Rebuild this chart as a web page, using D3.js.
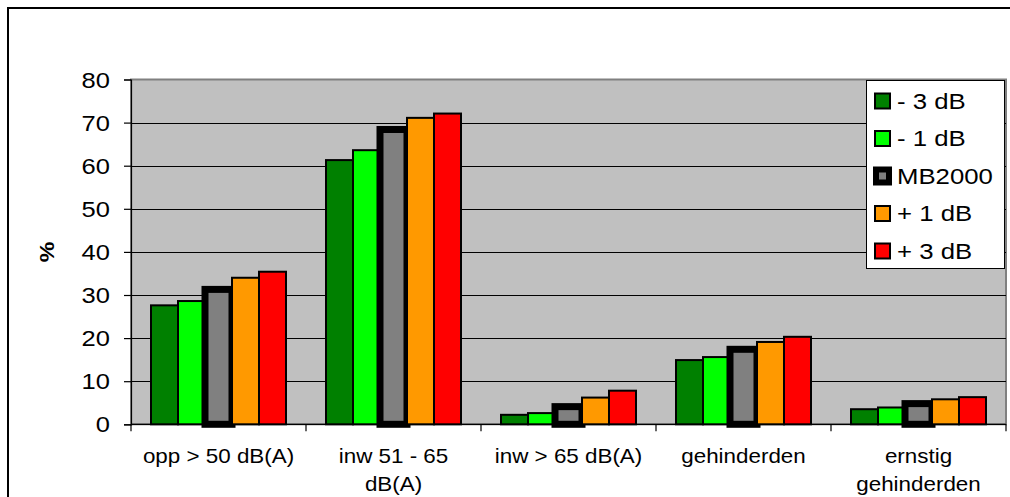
<!DOCTYPE html>
<html>
<head>
<meta charset="utf-8">
<script src="https://cdn.jsdelivr.net/npm/d3@7"></script>
<style>
  html, body { margin: 0; padding: 0; background: #fff; }
  svg { display: block; }
  text { font-family: "Liberation Sans", Arial, sans-serif; fill: #000; }
</style>
</head>
<body>
<svg id="chart" width="1010" height="497"></svg>
<script>
// Categories (each label split into its display lines)
const categories = ["opp > 50 dB(A)", "inw 51 - 65 dB(A)", "inw > 65 dB(A)", "gehinderden", "ernstig gehinderden"];
const categoryLines = [["opp > 50 dB(A)"], ["inw 51 - 65", "dB(A)"], ["inw > 65 dB(A)"], ["gehinderden"], ["ernstig", "gehinderden"]];

// Series names and values (%)
const seriesNames = ["- 3 dB", "- 1 dB", "MB2000", "+ 1 dB", "+ 3 dB"];
const minus3 = [27.6, 61.3, 2.2, 14.9, 3.5];
const minus1 = [28.6, 63.6, 2.6, 15.6, 3.9];
const mb2000 = [31.3, 68.4, 4.1, 17.4, 4.8];
const plus1  = [34.0, 71.1, 6.2, 19.1, 5.8];
const plus3  = [35.4, 72.1, 7.8, 20.3, 6.3];
const seriesValues = [minus3, minus1, mb2000, plus1, plus3];

// Y-axis ticks
const yTicks = [0, 10, 20, 30, 40, 50, 60, 70, 80];

const fills = ["#008000", "#00ff00", "#808080", "#ff9900", "#ff0000"];
const strokeW = [2, 2, 7, 2, 2];

const svg = d3.select("#chart");

// outer chart frame
svg.append("rect")
  .attr("x", 8).attr("y", 8).attr("width", 1020).attr("height", 520)
  .attr("fill", "#fff").attr("stroke", "#000").attr("stroke-width", 2);

const plot = { left: 131, right: 1006, top: 79.5, bottom: 424.3 };

const x0 = d3.scaleBand().domain(categories).range([plot.left, plot.right]).padding(0);
const x1 = d3.scaleBand().domain(seriesNames).range([20, x0.bandwidth() - 20]).padding(0);
const y = d3.scaleLinear().domain([0, 80]).range([plot.bottom, plot.top]);

// horizontally widened text helper
function stretchText(g, tx, ty, str, size, anchor, sx, weight) {
  return g.append("text")
    .attr("transform", `translate(${tx},${ty}) scale(${sx},1)`)
    .attr("text-anchor", anchor)
    .attr("font-size", size)
    .attr("font-weight", weight || "normal")
    .text(str);
}

// plot area background
svg.append("rect")
  .attr("x", plot.left).attr("y", plot.top)
  .attr("width", plot.right - plot.left).attr("height", plot.bottom - plot.top)
  .attr("fill", "#c0c0c0").attr("stroke", "#808080").attr("stroke-width", 2);

// gridlines
svg.append("g").selectAll("line")
  .data(yTicks.filter(d => d > 0 && d < 80))
  .join("line")
  .attr("x1", plot.left).attr("x2", plot.right)
  .attr("y1", d => Math.round(y(d)) + 0.5).attr("y2", d => Math.round(y(d)) + 0.5)
  .attr("stroke", "#000").attr("stroke-width", 1);

// y axis
const yAxis = svg.append("g")
  .attr("transform", `translate(${plot.left},0)`)
  .call(d3.axisLeft(y).tickValues(yTicks).tickSize(7).tickFormat(""));
yAxis.selectAll("path, line").attr("stroke", "#000").attr("stroke-width", 1.2);

const yLabels = svg.append("g");
yTicks.forEach(t => stretchText(yLabels, 110, y(t) + 8, String(t), 22, "end", 1.16));

// y axis title
svg.append("text")
  .attr("transform", `translate(54,252) rotate(-90) scale(1.1,1)`)
  .attr("text-anchor", "middle")
  .attr("font-size", 21)
  .attr("font-weight", "bold")
  .text("%");

// x axis
const xAxis = svg.append("g")
  .attr("transform", `translate(0,${plot.bottom})`);
xAxis.append("line")
  .attr("x1", plot.left).attr("x2", plot.right).attr("y1", 0).attr("y2", 0)
  .attr("stroke", "#000").attr("stroke-width", 1.2);
const bounds = categories.map(c => x0(c)).concat([plot.right]);
xAxis.selectAll("line.tick")
  .data(bounds).join("line").attr("class", "tick")
  .attr("x1", d => d).attr("x2", d => d).attr("y1", 0).attr("y2", 7)
  .attr("stroke", "#000").attr("stroke-width", 1.2);

const xLabels = svg.append("g");
categories.forEach((c, i) => {
  categoryLines[i].forEach((ln, j) => {
    stretchText(xLabels, x0(c) + x0.bandwidth() / 2, 462.5 + j * 28, ln, 20, "middle", 1.12);
  });
});

// bars, drawn series by series
seriesNames.forEach((s, si) => {
  svg.append("g").selectAll("rect")
    .data(seriesValues[si])
    .join("rect")
    .attr("x", (d, i) => x0(categories[i]) + x1(s))
    .attr("width", x1.bandwidth())
    .attr("y", d => y(d))
    .attr("height", d => y(0) - y(d))
    .attr("fill", fills[si])
    .attr("stroke", "#000")
    .attr("stroke-width", strokeW[si]);
});

// legend
const legend = svg.append("g");
legend.append("rect")
  .attr("x", 866.5).attr("y", 80.5).attr("width", 138).attr("height", 188)
  .attr("fill", "#fff").attr("stroke", "#000").attr("stroke-width", 1);
seriesNames.forEach((s, i) => {
  const base = 108.5 + i * 37.5;
  const thick = strokeW[i] > 2;
  legend.append("rect")
    .attr("x", thick ? 876 : 875).attr("y", base - (thick ? 14 : 15))
    .attr("width", thick ? 13 : 15).attr("height", thick ? 13 : 15)
    .attr("fill", fills[i]).attr("stroke", "#000")
    .attr("stroke-width", thick ? 6 : 2);
  stretchText(legend, 897, base, s, 23, "start", 1.12);
});
</script>
</body>
</html>
